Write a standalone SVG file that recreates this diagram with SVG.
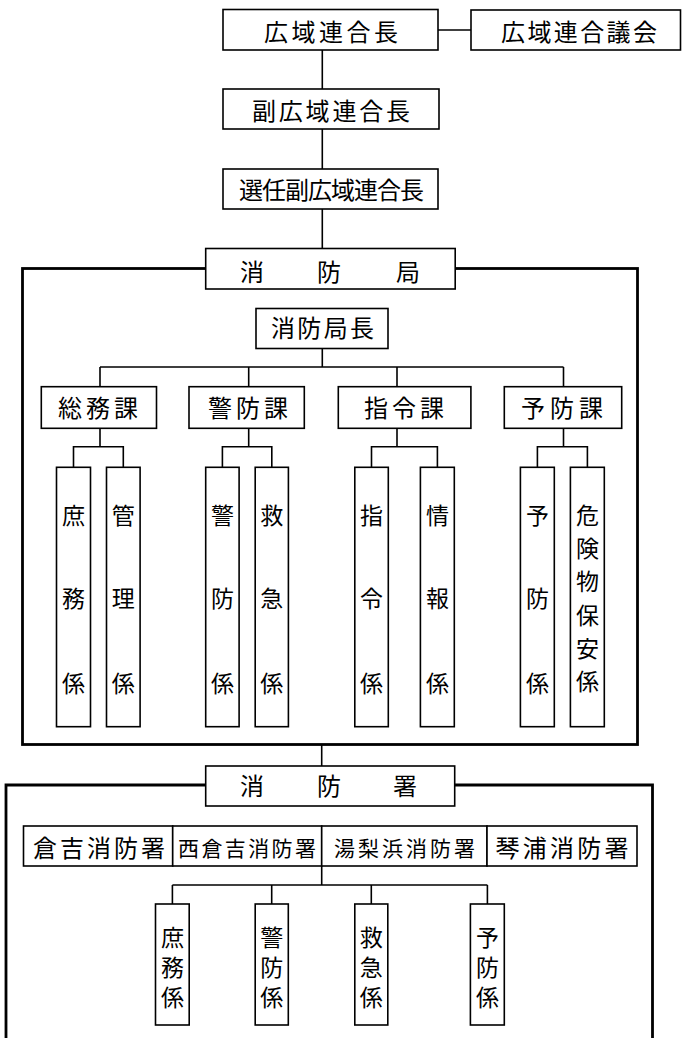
<svg xmlns="http://www.w3.org/2000/svg" width="682" height="1038" viewBox="0 0 682 1038">
<style>
.bg{fill:#fff}
.box{fill:#fff;stroke:#000;stroke-width:1.6}
.frame{fill:none;stroke:#000;stroke-width:2.8}
.ln{fill:none;stroke:#000;stroke-width:1.6}
text{font-family:"Noto Sans CJK JP","Noto Sans CJK SC",sans-serif;fill:#000;font-size:24px}
.v{text-anchor:middle;font-size:23px}
.sp{font-size:24px;text-anchor:middle}
.sm{font-size:21px}
</style>
<rect class="bg" x="0" y="0" width="682" height="1038"/>

<g id="frames">
<rect id="frame-honbu" class="frame" x="22.5" y="268.5" width="615" height="476"/>
<path id="frame-sho" class="frame" d="M6,1045 V785 H652.5 V1045"/>
</g>

<g id="connectors">
<path class="ln" d="M438,30 H471"/>
<path class="ln" d="M322.3,50 V89 M322.3,129 V169 M322.3,209 V249"/>
<path class="ln" d="M322.3,348.5 V367 M100,367 H563.5 M100,367 V386.7 M248.7,367 V386.7 M397,367 V386.7 M563.5,367 V386.7"/>
<path class="ln" d="M100,428.3 V446.7 M73.5,467.3 V446.7 H123.3 V467.3"/>
<path class="ln" d="M248.7,428.3 V446.7 M222.4,467.3 V446.7 H271.8 V467.3"/>
<path class="ln" d="M397,428.3 V446.7 M371.5,467.3 V446.7 H437.4 V467.3"/>
<path class="ln" d="M563.5,428.3 V446.7 M537.4,467.3 V446.7 H587.4 V467.3"/>
<path class="ln" d="M321.7,744.5 V766"/>
<path class="ln" d="M321.7,866 V885 M172.4,885 H487.4 M172.4,885 V904 M271.7,885 V904 M371.3,885 V904 M487.4,885 V904"/>
</g>

<g id="n-rengocho"><rect class="box" x="223" y="9.5" width="215" height="40.5"/><text x="264" y="40.5" textLength="134" lengthAdjust="spacing">広域連合長</text></g>
<g id="n-gikai"><rect class="box" x="471" y="10" width="209.5" height="40"/><text x="501" y="40.5" textLength="156" lengthAdjust="spacing">広域連合議会</text></g>
<g id="n-fuku"><rect class="box" x="223" y="89" width="216" height="40"/><text x="252" y="119.5" textLength="158" lengthAdjust="spacing">副広域連合長</text></g>
<g id="n-sennin"><rect class="box" x="223" y="169" width="215" height="40"/><text x="239" y="199" textLength="185" lengthAdjust="spacing">選任副広域連合長</text></g>

<g id="n-shobokyoku"><rect class="box" x="205.7" y="248.5" width="249.5" height="40.5"/><text class="sp" x="252 329 408" y="280.5">消防局</text></g>
<g id="n-kyokucho"><rect class="box" x="256" y="308.5" width="132" height="40"/><text x="271" y="337" textLength="103" lengthAdjust="spacing">消防局長</text></g>

<g id="n-somu"><rect class="box" x="41.3" y="386.7" width="115.2" height="41.6"/><text x="58" y="416.5" textLength="80" lengthAdjust="spacing">総務課</text></g>
<g id="n-keibo"><rect class="box" x="189" y="386.7" width="115.3" height="41.6"/><text x="208" y="416.5" textLength="80" lengthAdjust="spacing">警防課</text></g>
<g id="n-shirei"><rect class="box" x="338.3" y="386.7" width="132.6" height="41.6"/><text x="364" y="416.5" textLength="80" lengthAdjust="spacing">指令課</text></g>
<g id="n-yobo"><rect class="box" x="504.3" y="386.7" width="117.4" height="41.6"/><text x="521" y="416.5" textLength="82" lengthAdjust="spacing">予防課</text></g>

<g id="n-k-shomu"><rect class="box" x="56.5" y="467.3" width="34" height="259.4"/><text class="v" x="73.5 73.5 73.5" y="523.8 606.8 691.8">庶務係</text></g>
<g id="n-k-kanri"><rect class="box" x="106.5" y="467.3" width="33.6" height="259.4"/><text class="v" x="123.3 123.3 123.3" y="523.8 606.8 691.8">管理係</text></g>
<g id="n-k-keibo"><rect class="box" x="205.7" y="467.3" width="33.4" height="259.4"/><text class="v" x="222.4 222.4 222.4" y="523.8 606.8 691.8">警防係</text></g>
<g id="n-k-kyukyu"><rect class="box" x="255.2" y="467.3" width="33.2" height="259.4"/><text class="v" x="271.8 271.8 271.8" y="523.8 606.8 691.8">救急係</text></g>
<g id="n-k-shirei"><rect class="box" x="354.8" y="467.3" width="33.5" height="259.4"/><text class="v" x="371.5 371.5 371.5" y="523.8 606.8 691.8">指令係</text></g>
<g id="n-k-joho"><rect class="box" x="420.4" y="467.3" width="33.9" height="259.4"/><text class="v" x="437.4 437.4 437.4" y="523.8 606.8 691.8">情報係</text></g>
<g id="n-k-yobo"><rect class="box" x="520.4" y="467.3" width="33.9" height="259.4"/><text class="v" x="537.4 537.4 537.4" y="523.8 606.8 691.8">予防係</text></g>
<g id="n-k-kiken"><rect class="box" x="570.4" y="467.3" width="33.9" height="259.4"/><text class="v" x="587.4 587.4 587.4 587.4 587.4 587.4" y="523.8 557.1 590.4 623.8 657.1 690.4">危険物保安係</text></g>

<g id="n-shobosho"><rect class="box" x="205.7" y="766" width="249" height="40"/><text class="sp" x="252 329 405" y="795">消防署</text></g>

<g id="n-kurayoshi"><rect class="box" x="23.5" y="826" width="149.2" height="40"/><text x="33" y="856.5" textLength="132" lengthAdjust="spacing">倉吉消防署</text></g>
<g id="n-nishikurayoshi"><rect class="box" x="172.7" y="826" width="149" height="40"/><text class="sm" x="178" y="855.5" textLength="138" lengthAdjust="spacing">西倉吉消防署</text></g>
<g id="n-yurihama"><rect class="box" x="321.7" y="826" width="165.3" height="40"/><text class="sm" x="334" y="855.5" textLength="141" lengthAdjust="spacing">湯梨浜消防署</text></g>
<g id="n-kotoura"><rect class="box" x="487" y="826" width="150" height="40"/><text x="495.5" y="856.5" textLength="133" lengthAdjust="spacing">琴浦消防署</text></g>

<g id="n-s-shomu"><rect class="box" x="155.5" y="904" width="33.7" height="121"/><text class="v" x="172.4 172.4 172.4" y="945.5 975.5 1005.5">庶務係</text></g>
<g id="n-s-keibo"><rect class="box" x="255.2" y="904" width="33.1" height="121"/><text class="v" x="271.7 271.7 271.7" y="945.5 975.5 1005.5">警防係</text></g>
<g id="n-s-kyukyu"><rect class="box" x="354.8" y="904" width="33" height="121"/><text class="v" x="371.3 371.3 371.3" y="945.5 975.5 1005.5">救急係</text></g>
<g id="n-s-yobo"><rect class="box" x="470.4" y="904" width="33.9" height="121"/><text class="v" x="487.4 487.4 487.4" y="945.5 975.5 1005.5">予防係</text></g>
</svg>
